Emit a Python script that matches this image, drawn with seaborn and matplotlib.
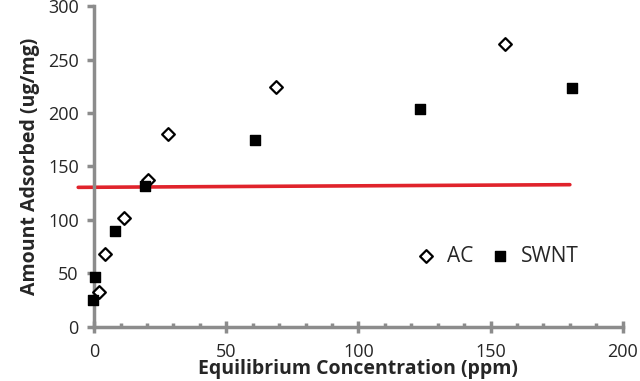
import matplotlib
matplotlib.use('Agg')
import matplotlib.pyplot as plt
import seaborn as sns
import pandas as pd
from matplotlib.ticker import MultipleLocator

# Data
ac_x = [1.9, 4.2, 11.3, 20.4, 28.0, 68.7, 155.5]
ac_y = [33, 68, 102, 137, 180, 224, 265]
swnt_x = [-0.5, 0.4, 8.0, 19.2, 60.8, 123.4, 180.8]
swnt_y = [25, 47, 90, 132, 175, 204, 223]
line_x = [-6, 180]
line_y = [130.5, 133]

df = pd.DataFrame({
    'x': ac_x + swnt_x,
    'y': ac_y + swnt_y,
    'series': ['AC'] * len(ac_x) + ['SWNT'] * len(swnt_x),
})

sns.set_style('white')
plt.rcParams['font.family'] = ['Open Sans', 'DejaVu Sans']

fig = plt.figure(figsize=(6.4, 3.81), dpi=100)
ax = fig.add_axes([0.147, 0.142, 0.826, 0.842])

sns.lineplot(x=line_x, y=line_y, color='#e0232b', linewidth=2.6, ax=ax, clip_on=False)

ac = df[df.series == 'AC']
sw = df[df.series == 'SWNT']
ax.scatter(ac.x, ac.y, marker='D', s=42, facecolor='white', edgecolor='black', linewidth=1.6,
           label='AC', zorder=3, clip_on=False)
ax.scatter(sw.x, sw.y, marker='s', s=60, color='black', label='SWNT', zorder=3, clip_on=False)

ax.set_xlim(0, 200)
ax.set_ylim(0, 300)
ax.xaxis.set_major_locator(MultipleLocator(50))
ax.xaxis.set_minor_locator(MultipleLocator(10))
ax.yaxis.set_major_locator(MultipleLocator(50))

for s in ['top', 'right']:
    ax.spines[s].set_visible(False)
for s in ['left', 'bottom']:
    ax.spines[s].set_color('#8c8c8c')
    ax.spines[s].set_linewidth(2.5)

ax.tick_params(axis='x', which='major', direction='inout', length=9, width=2.5, color='#8c8c8c',
               labelsize=13, pad=7)
ax.tick_params(axis='x', which='minor', direction='in', length=3, width=2.5, color='#8c8c8c')
ax.tick_params(axis='y', which='major', direction='out', length=5, width=2.5, color='#8c8c8c',
               labelsize=13, pad=6, left=True)
ax.tick_params(axis='x', bottom=True, which='both')

ax.set_xlabel('Equilibrium Concentration (ppm)', fontsize=14, fontweight='bold', labelpad=-1)
ax.set_ylabel('Amount Adsorbed (ug/mg)', fontsize=14, fontweight='bold', labelpad=6)

ax.legend(loc='center left', bbox_to_anchor=(0.553, 0.22), frameon=False, ncol=2, fontsize=15,
          handletextpad=0.0, columnspacing=0.3, markerscale=1.0)

fig.savefig('out.png', dpi=100)
